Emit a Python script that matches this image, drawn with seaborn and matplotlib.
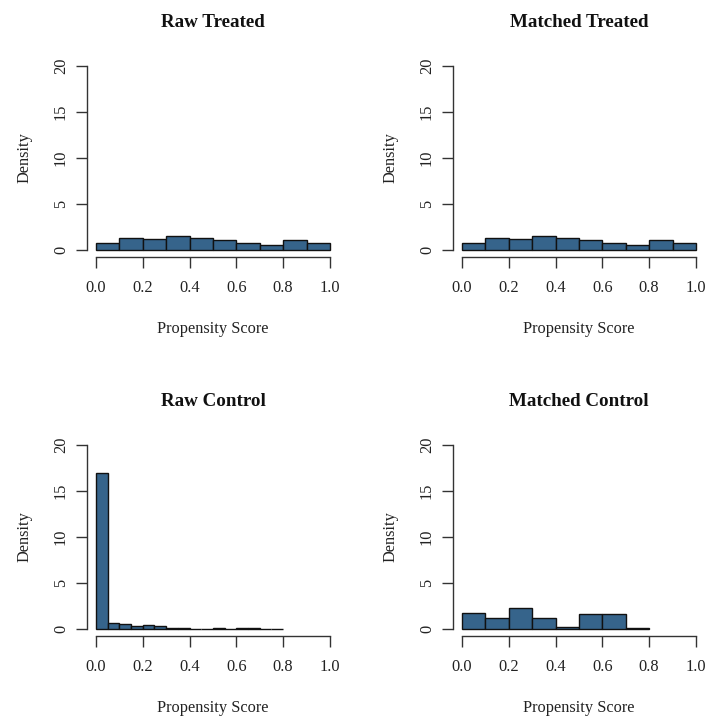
import numpy as np
import pandas as pd
import matplotlib
matplotlib.use("Agg")
import matplotlib.pyplot as plt
import seaborn as sns

sns.set_style("white")
plt.rcParams['font.family'] = ['Liberation Serif', 'DejaVu Serif']

# ---- data (density per bin) ----
treated_edges = [0.0, 0.1, 0.2, 0.3, 0.4, 0.5, 0.6, 0.7, 0.8, 0.9, 1.0]
raw_treated_density = [0.73, 1.36, 1.20, 1.49, 1.34, 1.09, 0.73, 0.51, 1.09, 0.73]
matched_treated_density = [0.73, 1.36, 1.20, 1.49, 1.34, 1.09, 0.73, 0.51, 1.09, 0.73]

raw_control_edges = [0.0, 0.05, 0.1, 0.15, 0.2, 0.25, 0.3, 0.35, 0.4, 0.45,
                     0.5, 0.55, 0.6, 0.65, 0.7, 0.75, 0.8]
raw_control_density = [17.0, 0.69, 0.54, 0.29, 0.43, 0.29, 0.14, 0.14, 0.0, 0.0,
                       0.14, 0.0, 0.14, 0.14, 0.0, 0.0]

matched_control_edges = [0.0, 0.1, 0.2, 0.3, 0.4, 0.5, 0.6, 0.7, 0.8]
matched_control_density = [1.74, 1.16, 2.25, 1.16, 0.25, 1.63, 1.63, 0.12]

titles = ["Raw Treated", "Matched Treated", "Raw Control", "Matched Control"]
x_ticks = [0.0, 0.2, 0.4, 0.6, 0.8, 1.0]
x_tick_labels = ["0.0", "0.2", "0.4", "0.6", "0.8", "1.0"]
y_ticks = [0, 5, 10, 15, 20]
x_label = "Propensity Score"
y_label = "Density"

panels = [
    (titles[0], treated_edges, raw_treated_density),
    (titles[1], treated_edges, matched_treated_density),
    (titles[2], raw_control_edges, raw_control_density),
    (titles[3], matched_control_edges, matched_control_density),
]

fig = plt.figure(figsize=(7.05, 7.2), dpi=100)
W, H = 705.0, 720.0
rects = [
    (86.6, 58.6), (452.6, 58.6),
    (86.6, 437.6), (452.6, 437.6),
]
pw, ph = 252.7, 198.8
bar_color = "#36648B"
axis_color = "#333333"
fs = 11.8

for (title, edges, dens), (lx, ty) in zip(panels, rects):
    ax = fig.add_axes([lx / W, 1 - (ty + ph) / H, pw / W, ph / H])
    e = np.array(edges)
    centers = (e[:-1] + e[1:]) / 2
    df = pd.DataFrame({"x": centers, "w": np.array(dens, dtype=float)})
    sns.histplot(data=df, x="x", weights="w", bins=list(edges), stat="count",
                 color=bar_color, edgecolor="#111111", linewidth=1.0,
                 alpha=1.0, ax=ax)
    ax.set_xlim(-0.04, 1.04)
    ax.set_ylim(-0.8, 20.8)
    ax.set_xticks(x_ticks)
    ax.set_xticklabels(x_tick_labels)
    ax.set_yticks(y_ticks)
    for s in ["top", "right"]:
        ax.spines[s].set_visible(False)
    ax.spines["left"].set_bounds(0, 20)
    ax.spines["bottom"].set_bounds(0, 1)
    for s in ["left", "bottom"]:
        ax.spines[s].set_color(axis_color)
        ax.spines[s].set_linewidth(1.0)
    ax.tick_params(axis="both", direction="out", length=7.7, width=1.0,
                   colors=axis_color, labelsize=fs, labelcolor="#222222",
                   bottom=True, left=True)
    ax.tick_params(axis="x", pad=8.6)
    ax.tick_params(axis="y", pad=5)
    for lbl in ax.get_yticklabels():
        lbl.set_rotation(90)
        lbl.set_va("center")
    ax.set_xlabel(x_label, fontsize=fs, labelpad=18, color="#222222")
    ax.set_ylabel(y_label, fontsize=fs, labelpad=14.5, color="#222222")
    ax.set_title(title, fontsize=13.7, fontweight="bold", pad=22.5, color="#111111")
    ax.grid(False)

fig.savefig("out.png", dpi=100)
